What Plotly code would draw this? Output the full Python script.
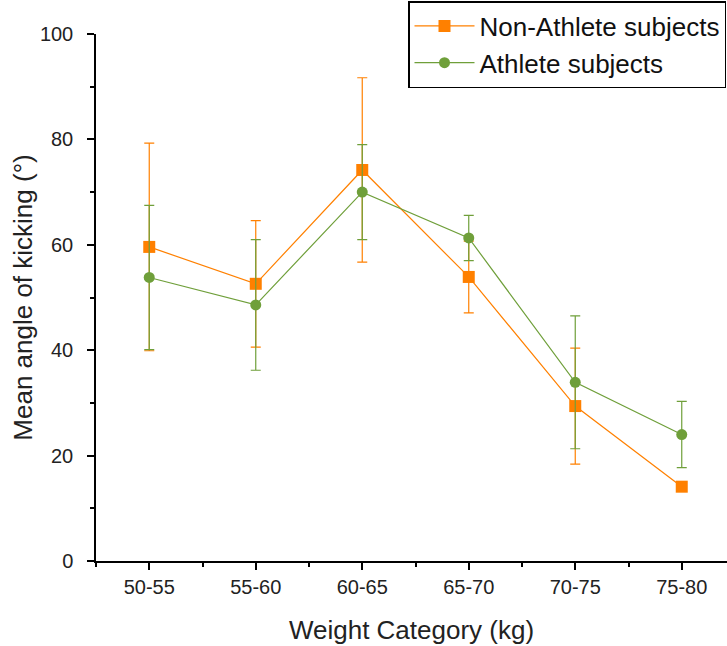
import plotly.graph_objects as go

categories = ["50-55", "55-60", "60-65", "65-70", "70-75", "75-80"]
non_athlete = [59.6, 52.6, 74.2, 53.9, 29.4, 14.1]
non_athlete_err = [19.7, 12.0, 17.5, 6.8, 11.0, 0.0]
athlete = [53.8, 48.6, 70.0, 61.3, 33.9, 24.0]
athlete_err = [13.7, 12.4, 9.0, 4.3, 12.6, 6.3]
y_ticks = [0, 20, 40, 60, 80, 100]

ORANGE = "#FF8000"
GREEN = "#6F9F3A"
FONT = "Liberation Sans, Arial, sans-serif"

xpos = list(range(len(categories)))

fig = go.Figure()
fig.add_trace(go.Scatter(
    x=xpos, y=non_athlete, name="Non-Athlete subjects", mode="lines+markers",
    line=dict(color=ORANGE, width=1.2),
    marker=dict(symbol="square", size=12, color=ORANGE),
    error_y=dict(type="data", array=non_athlete_err, visible=True,
                 color=ORANGE, thickness=1.2, width=5),
))
fig.add_trace(go.Scatter(
    x=xpos, y=athlete, name="Athlete subjects", mode="lines+markers",
    line=dict(color=GREEN, width=1.2),
    marker=dict(symbol="circle", size=11, color=GREEN),
    error_y=dict(type="data", array=athlete_err, visible=True,
                 color=GREEN, thickness=1.2, width=5),
))

fig.update_layout(
    width=727, height=646,
    margin=dict(l=96, r=0, t=34, b=85, autoexpand=False),
    paper_bgcolor="white", plot_bgcolor="white",
    font=dict(family=FONT, color="#222222"),
    showlegend=True,
    legend=dict(
        x=(408 - 96) / 631, y=(561 - 1) / 527, xanchor="left", yanchor="top",
        bgcolor="white", bordercolor="black", borderwidth=1.5,
        font=dict(size=26, family=FONT, color="#111111"),
        itemwidth=60, tracegroupgap=0,
    ),
)

fig.update_xaxes(
    range=[-0.5, -0.5 + 631 / 106.5], automargin=False,
    tickmode="array", tickvals=xpos, ticktext=categories,
    showline=True, linecolor="black", linewidth=1.5,
    ticks="outside", ticklen=7, tickwidth=1.5, tickcolor="black",
    tickfont=dict(size=20, family=FONT, color="#222222"),
    minor=dict(tickmode="array", tickvals=[i + 0.5 for i in range(-1, len(categories))],
               ticks="outside", ticklen=4, tickwidth=1.5, tickcolor="black"),
    showgrid=False, zeroline=False,
    title=dict(text="Weight Category (kg)", font=dict(size=26, family=FONT, color="#222222"), standoff=24),
)
fig.update_yaxes(
    range=[0, 100], automargin=False,
    tickmode="array", tickvals=y_ticks,
    showline=True, linecolor="black", linewidth=1.5,
    ticks="outside", ticklen=7, tickwidth=1.5, tickcolor="black",
    ticklabelstandoff=10,
    tickfont=dict(size=20, family=FONT, color="#222222"),
    minor=dict(dtick=10, ticks="outside", ticklen=4, tickwidth=1.5, tickcolor="black"),
    showgrid=False, zeroline=False,
    title=dict(text="Mean angle of kicking (°)", font=dict(size=26, family=FONT, color="#222222"), standoff=0),
)

fig.write_html(
    "out.html",
    config={"displayModeBar": False},
    post_script="document.body.style.margin='0';document.body.style.padding='0';",
)
